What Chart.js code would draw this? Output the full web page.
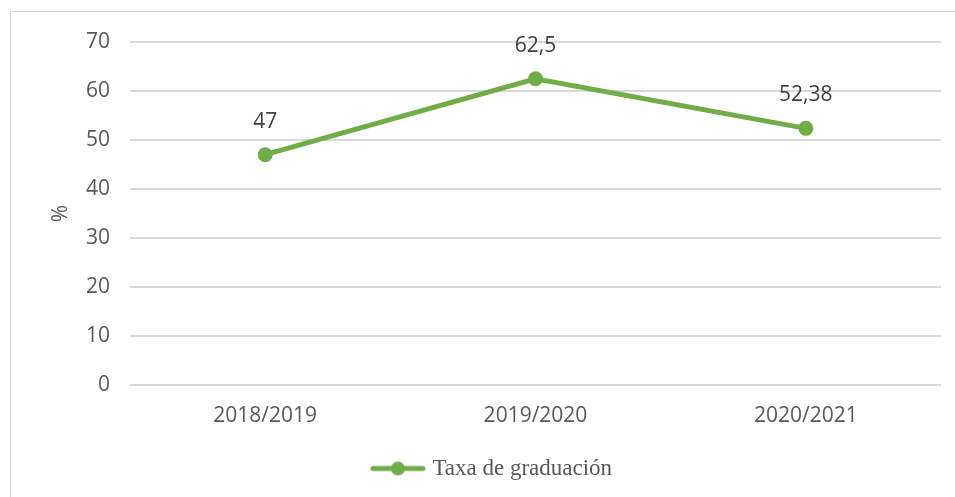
<!DOCTYPE html>
<html>
<head>
<meta charset="utf-8">
<script src="https://cdn.jsdelivr.net/npm/chart.js@4.4.1/dist/chart.umd.min.js"></script>
<style>
  html, body { margin: 0; padding: 0; background: #fff; }
  .wrap { position: relative; width: 955px; height: 497px; overflow: hidden; }
  .frame { position: absolute; left: 10px; top: 11px; width: 1000px; height: 600px; border: 1px solid #d9d9d9; }
  canvas { position: absolute; left: 0; top: 0; }
</style>
</head>
<body>
<div class="wrap">
  <div class="frame"></div>
  <canvas id="chart" width="955" height="497"></canvas>
</div>
<script>
const categories = ['2018/2019', '2019/2020', '2020/2021'];
const graduationRate = [47, 62.5, 52.38];
const seriesLabel = 'Taxa de graduación';
const yMin = 0, yMax = 70, yStep = 10;

const green = '#70AD47';
const gray = '#595959';
const gridGray = '#d9d9d9';

// legend marker: line with a dot in the middle
const makeMarker = () => {
    const c = document.createElement('canvas');
    c.width = 56; c.height = 16;
    const g = c.getContext('2d');
    g.strokeStyle = green;
    g.lineWidth = 5;
    g.lineCap = 'round';
    g.beginPath(); g.moveTo(3, 8); g.lineTo(53, 8); g.stroke();
    g.fillStyle = green;
    g.beginPath(); g.arc(28, 8, 7, 0, Math.PI * 2); g.fill();
    return c;
};

const valueLabels = {
    id: 'valueLabels',
    afterDatasetsDraw(chart) {
        const ctx = chart.ctx;
        const meta = chart.getDatasetMeta(0);
        ctx.save();
        ctx.font = '21px "Open Sans"';
        ctx.fillStyle = '#404040';
        ctx.textAlign = 'center';
        ctx.textBaseline = 'middle';
        meta.data.forEach((pt, i) => {
            const txt = String(graduationRate[i]).replace('.', ',');
            ctx.fillText(txt, pt.x, pt.y - 33);
        });
        ctx.restore();
    }
};

const ctx = document.querySelector('#chart').getContext('2d');
new Chart(ctx, {
    type: 'line',
    data: {
        labels: categories,
        datasets: [{
            label: seriesLabel,
            data: graduationRate,
            borderColor: green,
            backgroundColor: green,
            borderWidth: 5,
            pointRadius: 7.5,
            pointHoverRadius: 7.5,
            pointBackgroundColor: green,
            pointBorderWidth: 0,
            tension: 0
        }]
    },
    options: {
        responsive: false,
        animation: false,
        layout: { padding: { left: 46, right: 14, top: 42, bottom: 7 } },
        plugins: {
            tooltip: { enabled: false },
            legend: {
                position: 'bottom',
                labels: {
                    usePointStyle: true,
                    pointStyle: makeMarker(),
                    pointStyleWidth: 46,
                    color: gray,
                    padding: 10,
                    font: { family: '"Liberation Serif", serif', size: 23 }
                }
            }
        },
        scales: {
            x: {
                offset: true,
                grid: { display: false, drawTicks: false },
                border: { display: false },
                ticks: { color: gray, padding: 18, font: { family: '"Open Sans"', size: 21 } },
                afterFit: (s) => { s.height = 62; }
            },
            y: {
                min: yMin,
                max: yMax,
                ticks: { stepSize: yStep, color: gray, padding: 20, font: { family: '"Open Sans"', size: 21 } },
                grid: { color: gridGray, lineWidth: 2, drawTicks: false },
                border: { display: false },
                title: {
                    display: true,
                    text: '%',
                    color: gray,
                    padding: { top: 2 },
                    font: { family: '"Open Sans"', size: 21 }
                },
                afterFit: (s) => { s.width = 84; }
            }
        }
    },
    plugins: [valueLabels]
});
</script>
</body>
</html>
